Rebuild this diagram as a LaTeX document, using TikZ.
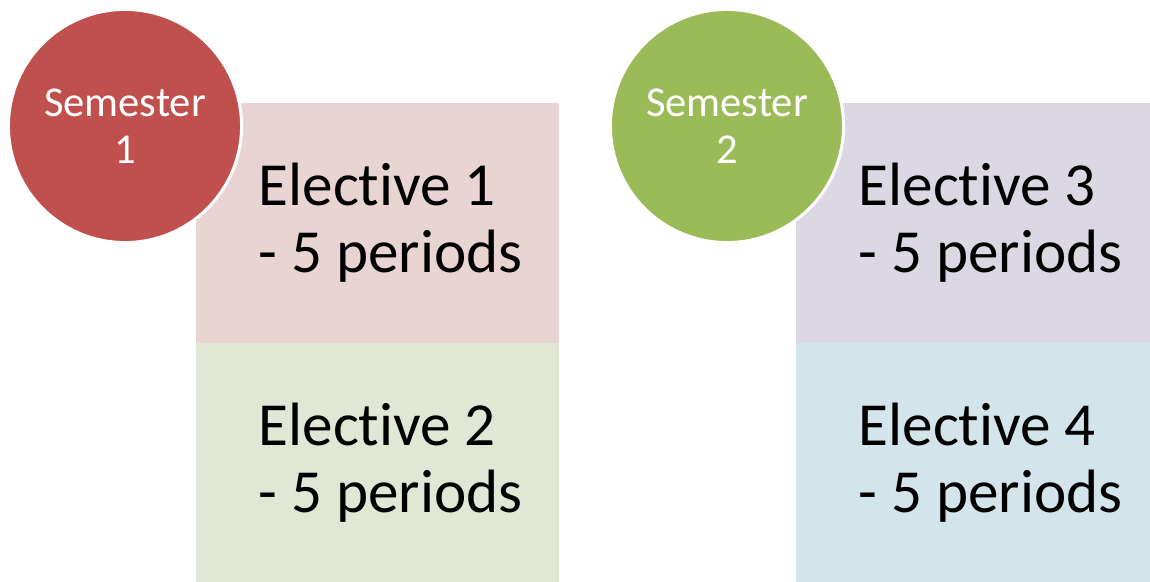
\documentclass[tikz,border=0pt]{standalone}
\usepackage{fontspec}
\setmainfont{Carlito}[Ligatures=NoCommon]
\definecolor{semred}{HTML}{C0504D}
\definecolor{semgreen}{HTML}{9BBB59}
\definecolor{boxred}{HTML}{E9D4D4}
\definecolor{boxgreen}{HTML}{E0E7D4}
\definecolor{boxpurple}{HTML}{DBD7E3}
\definecolor{boxblue}{HTML}{D3E4EA}
\begin{document}
\begin{tikzpicture}[x=0.01cm, y=-0.01cm,
    sem/.style={circle, draw=white, line width=0.03cm, minimum size=2.33cm,
      inner sep=0pt, text=white, align=center,
      font=\fontsize{12.1}{13.4}\selectfont},
    elecbox/.style={rectangle, inner sep=0pt, minimum height=2.4cm, anchor=north west},
    electext/.style={anchor=west, inner sep=0pt, align=left,
      font=\fontsize{17.4}{19}\selectfont}]
  \useasboundingbox (0,0) rectangle (1150,582);
  \draw
    (195,102) node[elecbox, fill=boxred, minimum width=3.63cm] (e1){}
    (195,342) node[elecbox, fill=boxgreen, minimum width=3.63cm] (e2){}
    (795,102) node[elecbox, fill=boxpurple, minimum width=3.55cm] (e3){}
    (795,342) node[elecbox, fill=boxblue, minimum width=3.55cm] (e4){};
  \node[electext] (t1) at ([xshift=0.63cm]e1.west) {Elective 1\\- 5 periods};
  \node[electext] (t2) at ([xshift=0.63cm]e2.west) {Elective 2\\- 5 periods};
  \node[electext] (t3) at ([xshift=0.63cm]e3.west) {Elective 3\\- 5 periods};
  \node[electext] (t4) at ([xshift=0.63cm]e4.west) {Elective 4\\- 5 periods};
  \draw
    (125,126) node[sem, fill=semred] (s1){Semester\\1}
    (727,126) node[sem, fill=semgreen] (s2){Semester\\2};
\end{tikzpicture}
\end{document}
